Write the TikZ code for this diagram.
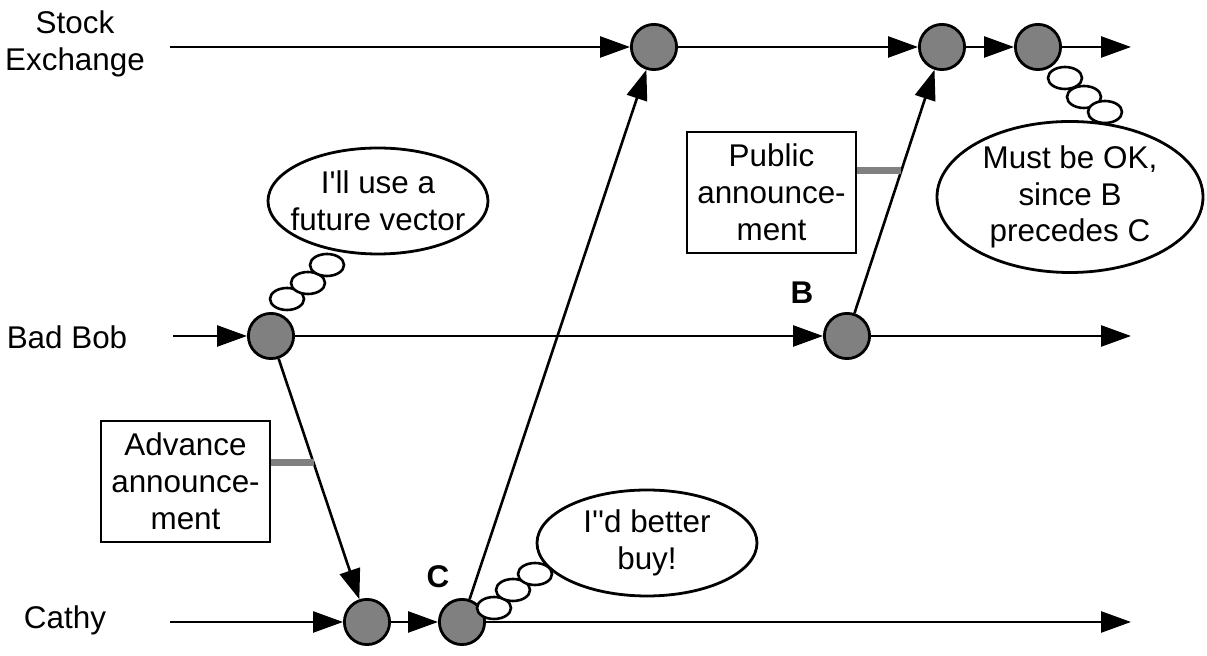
\documentclass[tikz,border=0pt]{standalone}
\usepackage{fontspec}
\newfontfamily\arial{Liberation Sans}
\usetikzlibrary{arrows.meta,shapes.geometric,calc}
\definecolor{evgray}{RGB}{128,128,128}
\begin{document}
\begin{tikzpicture}[x=0.5pt,y=-0.5pt,
  every node/.style={font=\arial\fontsize{15.7}{18.4}\selectfont},
  ev/.style={circle,draw,line width=1.4pt,fill=evgray,minimum size=22.6pt,inner sep=0pt},
  ln/.style={line width=1.3pt,-{Triangle[length=15pt,width=10.5pt]}},
  box/.style={draw,line width=1.2pt,minimum width=84.5pt,minimum height=60.5pt,align=center,inner sep=0pt},
  thought/.style={ellipse,draw,line width=1.4pt,fill=white,inner sep=0pt},
  bub/.style={ellipse,draw,line width=1.3pt,fill=white,minimum width=17pt,minimum height=11pt,inner sep=0pt},
  tag/.style={line width=3.5pt,draw=evgray},
  lab/.style={align=center},
  evlab/.style={font=\arial\bfseries\fontsize{15.7}{18.4}\selectfont}]
\useasboundingbox (0,0) rectangle (1207,656);

% process labels
\node[lab] (se) at (75,44) {Stock\\Exchange};
\node[lab] (bob) at (67,337) {Bad Bob};
\node[lab] (cathy) at (65,620) {Cathy};

% line ends
\coordinate (s0) at (170,47);  \coordinate (s9) at (1131,47);
\coordinate (b0) at (173,336); \coordinate (b9) at (1131,336);
\coordinate (c0) at (170,622); \coordinate (c9) at (1131,622);

% events
\node[ev] (SE1) at (654,47) {};
\node[ev] (SE2) at (942,47) {};
\node[ev] (SE3) at (1038,47) {};
\node[ev] (BB1) at (271,336) {};
\node[ev] (BB2) at (847,336) {};
\node[ev] (C1) at (367,622) {};
\node[ev] (C2) at (462,622) {};

% time lines
\draw[ln] (s0) -- (SE1);
\draw[ln] (SE1) -- (SE2);
\draw[ln] (SE2) -- (SE3);
\draw[ln] (SE3) -- (s9);
\draw[ln] (b0) -- (BB1);
\draw[ln] (BB1) -- (BB2);
\draw[ln] (BB2) -- (b9);
\draw[ln] (c0) -- (C1);
\draw[ln] (C1) -- (C2);
\draw[ln] (C2) -- (c9);

% messages
\draw[ln] (BB1) -- (C1);
\draw[ln] (C2) -- (SE1);
\draw[ln] (BB2) -- (SE2);

% event labels
\node[evlab] (lB) at (802,293) {B};
\node[evlab] (lC) at (438,577) {C};

% message boxes
\node[box] (pub) at (771.5,192.5) {Public\\announce-\\ment};
\node[box] (adv) at (185.5,481.5) {Advance\\announce-\\ment};
\coordinate (pa) at ($(BB2)!0.573!(SE2)$);
\coordinate (aa) at ($(BB1)!0.444!(C1)$);
\draw[tag] (pub.east |- pa) -- (pa);
\draw[tag] (adv.east |- aa) -- (aa);

% thought bubbles
\node[bub] (u3) at (287,299) {};
\node[bub] (u2) at (308,283) {};
\node[bub] (u1) at (327,265) {};
\node[thought,minimum width=110pt,minimum height=53pt] (t1) at (378,201) {};
\node[lab] (t1txt) at (t1.center) {I'll use a\\future vector};

\node[bub] (v3) at (494,608) {};
\node[bub] (v2) at (513,590) {};
\node[bub] (v1) at (535,574) {};
\node[thought,minimum width=110pt,minimum height=53pt] (t2) at (647,543) {};
\node[lab] (t2txt) at (t2.center) {I''d better\\buy!};

\node[bub] (w1) at (1065,78) {};
\node[bub] (w2) at (1084,97) {};
\node[bub] (w3) at (1105,112) {};
\node[thought,minimum width=133pt,minimum height=75.5pt] (t3) at (1070,197) {};
\node[lab] (t3txt) at (t3.center) {Must be OK,\\since B\\precedes C};
\end{tikzpicture}
\end{document}
